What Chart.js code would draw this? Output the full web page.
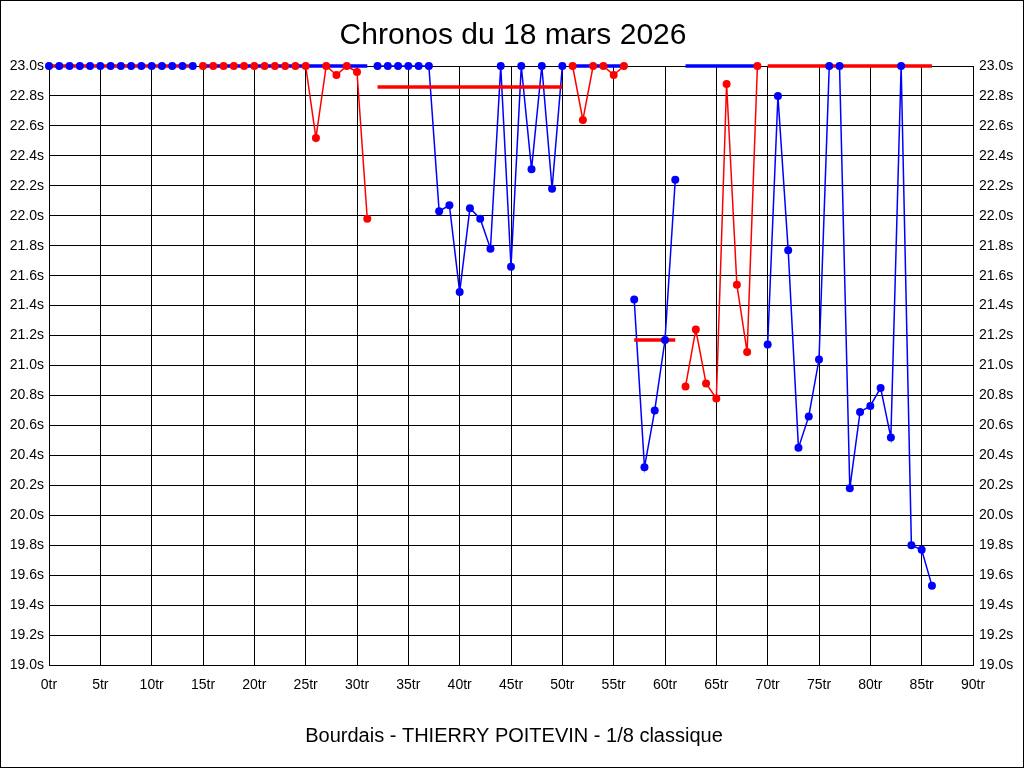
<!DOCTYPE html>
<html lang="fr">
<head>
    <meta charset="UTF-8">
    <title>Chronos du 18 mars 2026</title>
    <script src="https://cdn.jsdelivr.net/npm/chart.js"></script>
    <style>
        html, body { margin: 0; padding: 0; background: #fff; }
        #wrap { width: 1024px; height: 768px; }
    </style>
</head>
<body>
    <div id="wrap">
        <canvas id="chronoChart" width="1024" height="768"></canvas>
    </div>

    <script>
        const chartTitle = 'Chronos du 18 mars 2026';
        const chartCaption = 'Bourdais - THIERRY POITEVIN - 1/8 classique';

        // lap time for each lap (tr), 23.0 = top of the scale
        const lapTimes = [
            23.0, 23.0, 23.0, 23.0, 23.0, 23.0, 23.0, 23.0, 23.0, 23.0,   // 0-9
            23.0, 23.0, 23.0, 23.0, 23.0, 23.0, 23.0, 23.0, 23.0, 23.0,   // 10-19
            23.0, 23.0, 23.0, 23.0, 23.0, 23.0, 22.52, 23.0, 22.94, 23.0, // 20-29
            22.96, 21.98, 23.0, 23.0, 23.0, 23.0, 23.0, 23.0, 22.03, 22.07, // 30-39
            21.49, 22.05, 21.98, 21.78, 23.0, 21.66, 23.0, 22.31, 23.0, 22.18, // 40-49
            23.0, 23.0, 22.64, 23.0, 23.0, 22.94, 23.0, 21.44, 20.32, 20.70, // 50-59
            21.17, 22.24, 20.86, 21.24, 20.88, 20.78, 22.88, 21.54, 21.09, 23.0, // 60-69
            21.14, 22.80, 21.77, 20.45, 20.66, 21.04, 23.0, 23.0, 20.18, 20.69, // 70-79
            20.73, 20.85, 20.52, 23.0, 19.80, 19.77, 19.53                  // 80-86
        ];

        // stints: first lap, lane, reference time of the stint
        const stintStart = [0, 15, 32, 51, 57, 62, 70];
        const stintLane = ['bleu', 'rouge', 'bleu', 'rouge', 'bleu', 'rouge', 'bleu'];
        const stintRef = [23.0, 23.0, 22.86, 23.0, 21.17, 23.0, 23.0];

        const xTicks = { min: 0, max: 90, step: 5 };
        const yTicks = { min: 19.0, max: 23.0, step: 0.2 };

        const laneColor = { bleu: '#0000ff', rouge: '#ff0000' };
        const otherLane = { bleu: 'rouge', rouge: 'bleu' };

        const lineSets = [];
        const refSets = [];
        const pointSets = [];

        stintStart.forEach((start, i) => {
            const end = (i + 1 < stintStart.length ? stintStart[i + 1] : lapTimes.length) - 1;
            const pts = [];
            for (let lap = start; lap <= end; lap++) {
                pts.push({ x: lap, y: lapTimes[lap] });
            }
            const col = laneColor[stintLane[i]];
            lineSets.push({
                data: pts, borderColor: col, borderWidth: 1.5,
                pointRadius: 0, pointHoverRadius: 0, clip: false, order: 3
            });
            refSets.push({
                data: [{ x: start, y: stintRef[i] }, { x: end, y: stintRef[i] }],
                borderColor: laneColor[otherLane[stintLane[i]]], borderWidth: 3.5,
                pointRadius: 0, pointHoverRadius: 0, clip: false, order: 2
            });
            pointSets.push({
                data: pts, showLine: false, backgroundColor: col,
                pointBackgroundColor: col, pointBorderWidth: 0,
                pointRadius: 4, pointHoverRadius: 4, clip: false, order: 1
            });
        });

        const frame = {
            id: 'frame',
            beforeDraw(chart) {
                const c = chart.ctx;
                c.save();
                c.fillStyle = '#fff';
                c.fillRect(0, 0, chart.width, chart.height);
                c.restore();
            },
            afterDraw(chart) {
                const c = chart.ctx;
                c.save();
                c.strokeStyle = '#000';
                c.lineWidth = 1;
                c.strokeRect(0.5, 0.5, chart.width - 1, chart.height - 1);
                c.fillStyle = '#000';
                c.textAlign = 'center';
                c.textBaseline = 'alphabetic';
                c.font = '30px "Liberation Sans", Arial, sans-serif';
                c.fillText(chartTitle, 513, 44);
                c.font = '20px "Liberation Sans", Arial, sans-serif';
                c.fillText(chartCaption, 514, 742);
                c.restore();
            }
        };

        const tickFont = { family: '"Liberation Sans", Arial, sans-serif', size: 14 };
        const gridStyle = { color: '#000', lineWidth: 1, drawTicks: false };

        const yFormat = (v) => v.toFixed(1) + 's';

        new Chart(document.getElementById('chronoChart'), {
            type: 'line',
            data: { datasets: [...pointSets, ...refSets, ...lineSets] },
            options: {
                responsive: false,
                animation: false,
                events: [],
                layout: { padding: { top: 66, left: 0, right: 0, bottom: 0 } },
                plugins: { legend: { display: false }, title: { display: false }, tooltip: { enabled: false } },
                scales: {
                    x: {
                        type: 'linear',
                        min: xTicks.min, max: xTicks.max,
                        grid: gridStyle,
                        border: { color: '#000', width: 1 },
                        ticks: {
                            stepSize: xTicks.step, color: '#000', font: tickFont, padding: 12,
                            maxRotation: 0, autoSkip: false,
                            callback: (v) => v + 'tr'
                        },
                        afterFit: (s) => { s.height = 103; }
                    },
                    y: {
                        position: 'left',
                        min: yTicks.min, max: yTicks.max,
                        grid: gridStyle,
                        border: { color: '#000', width: 1 },
                        ticks: {
                            stepSize: yTicks.step, color: '#000', font: tickFont, padding: 5,
                            autoSkip: false, callback: yFormat
                        },
                        afterFit: (s) => { s.width = 49; }
                    },
                    y2: {
                        position: 'right',
                        min: yTicks.min, max: yTicks.max,
                        grid: { display: false, drawTicks: false },
                        border: { color: '#000', width: 1 },
                        ticks: {
                            stepSize: yTicks.step, color: '#000', font: tickFont, padding: 6,
                            autoSkip: false, callback: yFormat
                        },
                        afterFit: (s) => { s.width = 51; }
                    }
                }
            },
            plugins: [frame]
        });
    </script>
</body>
</html>
